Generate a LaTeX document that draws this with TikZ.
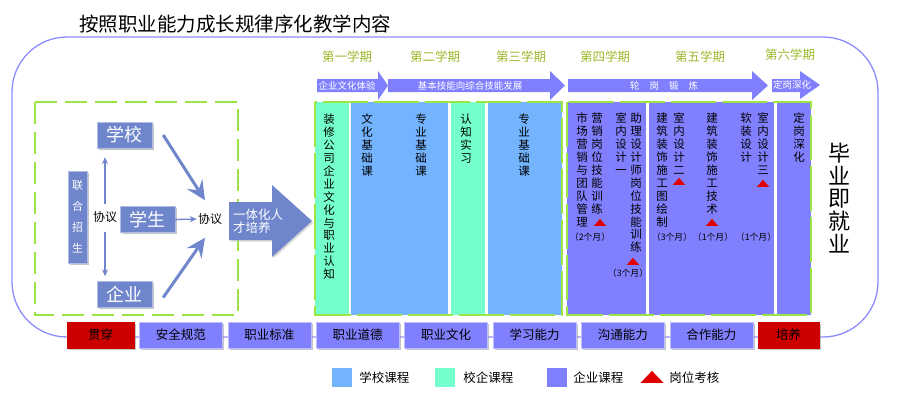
\documentclass[tikz,border=0pt]{standalone}
\usepackage{fontspec}
\setmainfont{Noto Sans CJK SC}
\usetikzlibrary{arrows.meta,positioning,shadows,shapes.geometric,calc}
\XeTeXlinebreaklocale "zh"
\XeTeXlinebreakskip=0pt plus 1pt

\definecolor{schoolblue}{HTML}{74B4FF}
\definecolor{jointgreen}{HTML}{74FFCC}
\definecolor{firmpurple}{HTML}{8080FF}
\definecolor{boxblue}{HTML}{6F86CC}
\definecolor{limeline}{HTML}{9BE645}
\definecolor{termgreen}{HTML}{9AB82A}
\definecolor{ringblue}{HTML}{8C8CFF}
\definecolor{darkred}{HTML}{CC0000}
\definecolor{markred}{HTML}{E00000}

\tikzset{
  lbox/.style={draw=boxblue!55!white, fill=boxblue, text=white, inner sep=0pt,
    font=\fontsize{18}{18}\selectfont, minimum width=55pt, minimum height=26pt,
    drop shadow={shadow xshift=1.5pt, shadow yshift=-1.5pt, fill=black!45}},
  agree/.style={font=\fontsize{12}{12}\selectfont, inner sep=1pt},
  thinarr/.style={draw=boxblue, line width=1.3pt, -{Stealth[length=7pt,width=6pt]}},
  bigarr/.style={draw=boxblue, line width=3pt, -{Stealth[length=19pt,width=18pt,inset=7pt]}},
  termlbl/.style={text=termgreen, font=\fontsize{12.5}{12.5}\selectfont, inner sep=0pt},
  flowtxt/.style={text=white, font=\fontsize{9.5}{10}\selectfont, inner sep=0pt},
  vcol/.style={anchor=north, text width=12pt, align=center, inner sep=0pt,
    font=\fontsize{11.5}{12.9}\selectfont},
  months/.style={font=\fontsize{8.8}{8.8}\selectfont, inner sep=0pt},
  postmark/.style={isosceles triangle, shape border rotate=90, fill=markred,
    isosceles triangle stretches, minimum width=12pt, minimum height=7pt, inner sep=0pt},
  barbox/.style={draw=firmpurple!50!white, fill=firmpurple, inner sep=0pt,
    font=\fontsize{12.5}{12.5}\selectfont, minimum width=83pt, minimum height=26pt,
    drop shadow={shadow xshift=1.8pt, shadow yshift=-1.8pt, fill=black!45}},
  legbox/.style={minimum width=20pt, minimum height=19pt, inner sep=0pt},
  legtxt/.style={font=\fontsize{12.5}{12.5}\selectfont, inner sep=0pt},
}

\begin{document}
\begin{tikzpicture}[x=1pt,y=-1pt]
    \useasboundingbox (0,0) rectangle (912,404);

    % Outer frame and title
    \draw[ringblue, line width=1.3pt, rounded corners=55pt] (12,37) rectangle (878,337);
    \node[font=\fontsize{19.5}{19.5}\selectfont] (title) at (235,24) {按照职业能力成长规律序化教学内容};

    % Left part: school, student, firm
    \draw[limeline, line width=1.8pt, dash pattern=on 22pt off 8pt] (35,102) rectangle (238,315);
    \node[lbox] (school) at (124.5,135) {学校};
    \node[lbox] (student) at (147.5,219.5) {学生};
    \node[lbox] (firm) at (124.5,294.5) {企业};
    \node[lbox, minimum width=19pt, minimum height=92pt, align=center,
      font=\fontsize{11}{21}\selectfont] (enrol) at (77.5,217) {联\\合\\招\\生};
    \node[agree] (agree1) at (105,217) {协议};
    \node[agree] (agree2) at (210,219) {协议};

    \draw[thinarr, shorten <=6pt] (agree1.north) -- ($(agree1.north |- school.south)+(0,9)$);
    \draw[thinarr, shorten <=8pt] (agree1.south) -- ($(agree1.south |- firm.north)+(0,-5)$);
    \draw[thinarr] (student.east) -- (agree2.west);
    \draw[bigarr] ($(school.east)+(11,0)$) -- ($(agree2.north)+(-5,-12)$);
    \draw[bigarr] ($(firm.east)+(11,3)$) -- ($(agree2.south)+(-5,12)$);

    % Big arrow into the courses
    \fill[boxblue, drop shadow={shadow xshift=1.5pt, shadow yshift=-1.5pt, fill=black!30}]
      (229,202) -- (272,202) -- (272,185) -- (312,221) -- (272,257) -- (272,240) -- (229,240) -- cycle;
    \node[text=white, align=left, inner sep=0pt, font=\fontsize{12.5}{13.5}\selectfont] (train) at (258,221.5) {一体化人\\才培养};

    % Terms
    \node[termlbl] (term1) at (347,57) {第一学期};
    \node[termlbl] (term2) at (435,57) {第二学期};
    \node[termlbl] (term3) at (521,57) {第三学期};
    \node[termlbl] (term4) at (605,57) {第四学期};
    \node[termlbl] (term5) at (700,57) {第五学期};
    \node[termlbl] (term6) at (790,55) {第六学期};

    % Flow arrows over the terms
    \fill[firmpurple] (317,79) -- (378,79) -- (378,71) -- (388,85.5) -- (378,100) -- (378,92) -- (317,92) -- cycle;
    \fill[firmpurple] (388,79) -- (550,79) -- (550,71) -- (565,85.5) -- (550,100) -- (550,92) -- (388,92) -- cycle;
    \fill[firmpurple] (568,79) -- (752,79) -- (752,71) -- (768,85.5) -- (752,100) -- (752,92) -- (568,92) -- cycle;
    \fill[firmpurple] (772,79) -- (800,79) -- (800,71) -- (820,85) -- (800,99) -- (800,92) -- (772,92) -- cycle;
    \node[flowtxt] (flow1) at (347,85.5) {企业文化体验};
    \node[flowtxt] (flow2) at (470,85.5) {基本技能向综合技能发展};
    \node[flowtxt] (flow3) at (664,85.5) {轮\hspace{10pt}岗\hspace{10pt}锻\hspace{10pt}炼};
    \node[flowtxt] (flow4) at (792,85) {定岗深化};

    % Course columns
    \fill[jointgreen] (315,102) rectangle (349,315);
    \fill[schoolblue] (351,102) rectangle (448,315);
    \fill[jointgreen] (451,102) rectangle (485,315);
    \fill[schoolblue] (488,102) rectangle (562,315);
    \fill[firmpurple] (567,102) rectangle (646,315);
    \fill[firmpurple] (649,102) rectangle (774,315);
    \fill[firmpurple] (777,102) rectangle (811,315);
    \draw[limeline, line width=1.8pt, dash pattern=on 45pt off 6pt] (315,102) rectangle (562,315);
    \draw[limeline, line width=1.8pt, dash pattern=on 45pt off 6pt] (567,102) rectangle (811,315);

    \node[vcol] (c1) at (329,114) {装修公司企业文化与职业认知};
    \node[vcol] (c2a) at (367,114) {文化基础课};
    \node[vcol] (c2b) at (421,114) {专业基础课};
    \node[vcol] (c3) at (466,114) {认知实习};
    \node[vcol] (c4) at (524,114) {专业基础课};
    \node[vcol] (c5a) at (582,113) {市场营销与团队管理};
    \node[vcol] (c5b) at (597,113) {营销岗位技能训练};
    \node[vcol] (c5c) at (621,113) {室内设计一};
    \node[vcol] (c5d) at (636,113) {助理设计师岗位技能训练};
    \node[vcol] (c6a) at (662,113) {建筑装饰施工图绘制};
    \node[vcol] (c6b) at (679,113) {室内设计二};
    \node[vcol] (c6c) at (712,113) {建筑装饰施工技术};
    \node[vcol] (c6d) at (746,113) {软装设计};
    \node[vcol] (c6e) at (763,113) {室内设计三};
    \node[vcol] (c7) at (799,113) {定岗深化};

    % Post checks and months
    \node[postmark] (mark1) at (600,223) {};
    \node[postmark] (mark2) at (633,262) {};
    \node[postmark] (mark3) at (679,182) {};
    \node[postmark] (mark4) at (712,223) {};
    \node[postmark] (mark5) at (763,184) {};
    \node[months] (m1) at (590,237) {（2个月）};
    \node[months] (m2) at (628,273) {（3个月）};
    \node[months] (m3) at (672,237) {（3个月）};
    \node[months] (m4) at (713,237) {（1个月）};
    \node[months] (m5) at (756,237) {（1个月）};

    % Graduation
    \node[vcol, anchor=center, text width=22pt, font=\fontsize{22}{22.6}\selectfont] (job) at (839,198) {毕业即就业};

    % Bottom bar
    \node[barbox, fill=darkred, draw=darkred, minimum width=67pt] (through) at (100.5,335) {贯穿};
    \node[barbox, right=5pt of through] (b1) {安全规范};
    \node[barbox, right=5pt of b1] (b2) {职业标准};
    \node[barbox, right=5pt of b2] (b3) {职业道德};
    \node[barbox, right=5pt of b3] (b4) {职业文化};
    \node[barbox, right=5pt of b4] (b5) {学习能力};
    \node[barbox, right=5pt of b5] (b6) {沟通能力};
    \node[barbox, right=5pt of b6] (b7) {合作能力};
    \node[barbox, fill=darkred, draw=darkred, minimum width=61pt, right=5pt of b7] (foster) {培养};

    % Legend
    \node[legbox, fill=schoolblue] (lg1) at (342,377.5) {};
    \node[legtxt, right=7pt of lg1] (lt1) {学校课程};
    \node[legbox, fill=jointgreen] (lg2) at (445,377.5) {};
    \node[legtxt, right=8pt of lg2] (lt2) {校企课程};
    \node[legbox, fill=firmpurple] (lg3) at (557,377.5) {};
    \node[legtxt, right=6pt of lg3] (lt3) {企业课程};
    \node[postmark, minimum width=23pt, minimum height=12pt] (lg4) at (652,378) {};
    \node[legtxt, right=10pt of lg4] (lt4) {岗位考核};
\end{tikzpicture}
\end{document}
